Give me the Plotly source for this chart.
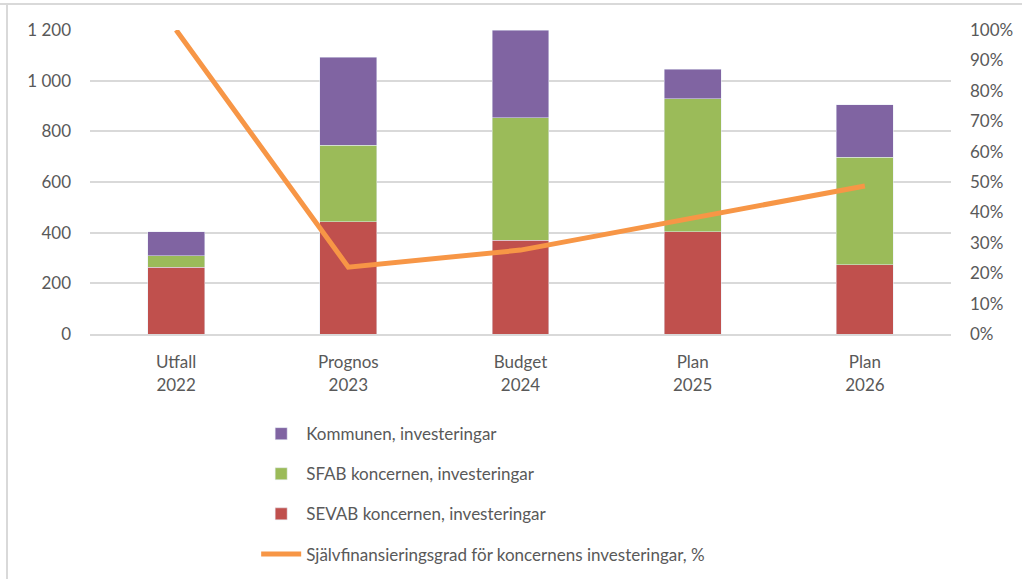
import plotly.graph_objects as go

# Kategorier och värden (Mkr)
kategorier = ["Utfall<br>2022", "Prognos<br>2023", "Budget<br>2024", "Plan<br>2025", "Plan<br>2026"]
sevab = [264, 443, 371, 403, 274]
sfab = [44, 303, 482, 525, 424]
kommunen = [95, 346, 347, 117, 207]
sjalvfin = [1.00, 0.22, 0.276, 0.38, 0.487]

vanster_ticks = [0, 200, 400, 600, 800, 1000, 1200]
vanster_text = ["0", "200", "400", "600", "800", "1 000", "1 200"]

GRA = "#595959"
FONT = "Lato, sans-serif"

fig = go.Figure()

fig.add_trace(go.Bar(
    x=kategorier, y=sevab, name="SEVAB koncernen, investeringar",
    marker_color="#C0504D", legendgroup="c", legendrank=3
))
fig.add_trace(go.Bar(
    x=kategorier, y=sfab, name="SFAB koncernen, investeringar",
    marker_color="#9BBB59", legendgroup="b", legendrank=2
))
fig.add_trace(go.Bar(
    x=kategorier, y=kommunen, name="Kommunen, investeringar",
    marker_color="#8064A2", legendgroup="a", legendrank=1
))
fig.add_trace(go.Scatter(
    x=kategorier, y=sjalvfin, name="Självfinansieringsgrad för koncernens investeringar, %",
    mode="lines", line=dict(color="#F79646", width=5),
    yaxis="y2", legendgroup="d", legendrank=4
))

fig.update_layout(
    barmode="stack",
    bargap=0.67,
    width=1022, height=579,
    margin=dict(l=90, r=71, t=30, b=245, autoexpand=False),
    plot_bgcolor="white", paper_bgcolor="white",
    font=dict(family=FONT, size=17, color=GRA),
    xaxis=dict(
        showline=True, linecolor="#d9d9d9", linewidth=2,
        ticks="", tickfont=dict(size=17, color=GRA), automargin=False,
        ticklabelstandoff=12,
    ),
    yaxis=dict(
        range=[0, 1200], tickvals=vanster_ticks, ticktext=vanster_text,
        showgrid=True, gridcolor="#d9d9d9", gridwidth=2,
        zeroline=False, ticklabelstandoff=18, automargin=False,
        tickfont=dict(size=17, color=GRA),
    ),
    yaxis2=dict(
        overlaying="y", side="right", range=[0, 1.0],
        dtick=0.1, tickformat=".0%", showgrid=False, zeroline=False,
        ticklabelstandoff=18, automargin=False,
        tickfont=dict(size=17, color=GRA),
    ),
    legend=dict(
        x=0.193, y=-0.27, xanchor="left", yanchor="top",
        orientation="v", traceorder="grouped", tracegroupgap=15,
        font=dict(size=17, color=GRA), itemwidth=40,
    ),
    showlegend=True,
)

# Ram runt diagramytan
fig.add_shape(type="line", xref="paper", yref="paper",
              x0=-90 / 861, x1=(1022 - 90) / 861, y0=(334 - 4) / 304, y1=(334 - 4) / 304,
              line=dict(color="#d9d9d9", width=2))
fig.add_shape(type="line", xref="paper", yref="paper",
              x0=-83 / 861, x1=-83 / 861, y0=(334 - 4) / 304, y1=(334 - 579) / 304,
              line=dict(color="#d9d9d9", width=2))

# sidans standardmarginal (8 px) bort så att figuren hamnar i hörnet
fig.write_html("out.html", config={"displayModeBar": False},
               post_script="document.body.style.margin='0';")
